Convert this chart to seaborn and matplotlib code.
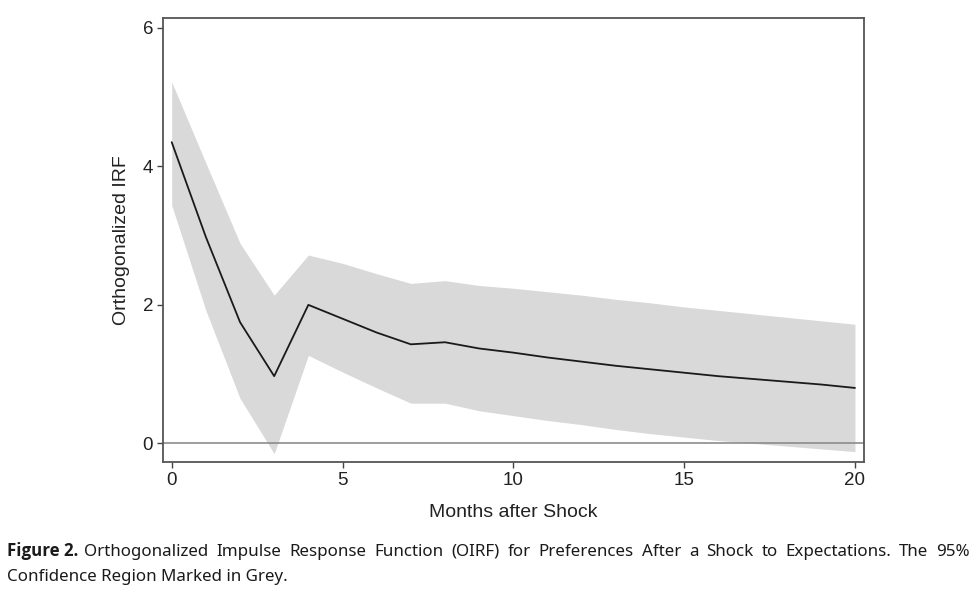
import numpy as np
import pandas as pd
import matplotlib
matplotlib.use("Agg")
import matplotlib.pyplot as plt
import seaborn as sns

# months after shock and the estimated response with 95% band
months = list(range(21))
oirf = [4.35, 2.98, 1.75, 0.97, 2.00, 1.80, 1.60, 1.43, 1.46, 1.37, 1.31,
        1.24, 1.18, 1.12, 1.07, 1.02, 0.97, 0.93, 0.89, 0.85, 0.80]
upper = [5.22, 4.05, 2.89, 2.14, 2.72, 2.60, 2.45, 2.31, 2.35, 2.28, 2.24,
         2.19, 2.14, 2.08, 2.03, 1.97, 1.92, 1.87, 1.82, 1.77, 1.72]
lower = [3.44, 1.92, 0.65, -0.15, 1.27, 1.03, 0.80, 0.58, 0.58, 0.47, 0.40,
         0.33, 0.27, 0.20, 0.14, 0.09, 0.04, 0.00, -0.04, -0.08, -0.12]
x_ticks = [0, 5, 10, 15, 20]
y_ticks = [0, 2, 4, 6]

df = pd.DataFrame({"month": months, "oirf": oirf, "lo": lower, "hi": upper})

sns.set_style("white")
plt.rcParams["font.family"] = ["Liberation Sans", "DejaVu Sans"]

fig = plt.figure(figsize=(9.75, 5.89), dpi=100)
ax = fig.add_axes([0.167, 0.2156, 0.719, 0.7534])

# confidence region
ax.fill_between(df["month"], df["lo"], df["hi"], color="#d9d9d9", linewidth=0, zorder=1)
ax.axhline(0, color="#8c8c8c", linewidth=1.2, zorder=2)
sns.lineplot(data=df, x="month", y="oirf", color="#1a1a1a", linewidth=1.3, ax=ax, zorder=3)

ax.set_xlim(-0.26, 20.26)
ax.set_ylim(-0.27, 6.14)
ax.set_xticks(x_ticks)
ax.set_yticks(y_ticks)
ax.set_xlabel("Months after Shock", fontsize=14, color="#222222", labelpad=11)
ax.set_ylabel("Orthogonalized IRF", fontsize=14, color="#222222", labelpad=9)
ax.tick_params(axis="both", direction="out", length=4, width=1, color="#444444",
               labelsize=13.5, labelcolor="#222222", bottom=True, left=True, pad=3)
for s in ax.spines.values():
    s.set_color("#555555")
    s.set_linewidth(1.3)

# caption, first line justified across the figure
cap_font = ["Noto Sans", "DejaVu Sans"]
cap_size = 12.2
fig.canvas.draw()
r = fig.canvas.get_renderer()
t1 = fig.text(7 / 975, 1 - 556 / 589, "Figure 2.", fontsize=cap_size, fontweight="bold",
              family=["Open Sans", "DejaVu Sans"], color="#1a1a1a", va="baseline")
bb = t1.get_window_extent(r)
rest = ("Orthogonalized Impulse Response Function (OIRF) for Preferences After a "
        "Shock to Expectations. The 95%")
words = rest.split(" ")
wt = [fig.text(0, 0, w, fontsize=cap_size, family=cap_font) for w in words]
widths = [t.get_window_extent(r).width for t in wt]
for t in wt:
    t.remove()
start = bb.x1 + 6
end = 970
gap = (end - start - sum(widths)) / (len(words) - 1)
xpos = start
for w, wd in zip(words, widths):
    fig.text(xpos / 975, 1 - 556 / 589, w, fontsize=cap_size, family=cap_font,
             color="#1a1a1a", va="baseline")
    xpos += wd + gap
fig.text(7 / 975, 1 - 581 / 589, "Confidence Region Marked in Grey.", fontsize=cap_size,
         family=cap_font, color="#1a1a1a", va="baseline")

fig.savefig("out.png", dpi=100)
